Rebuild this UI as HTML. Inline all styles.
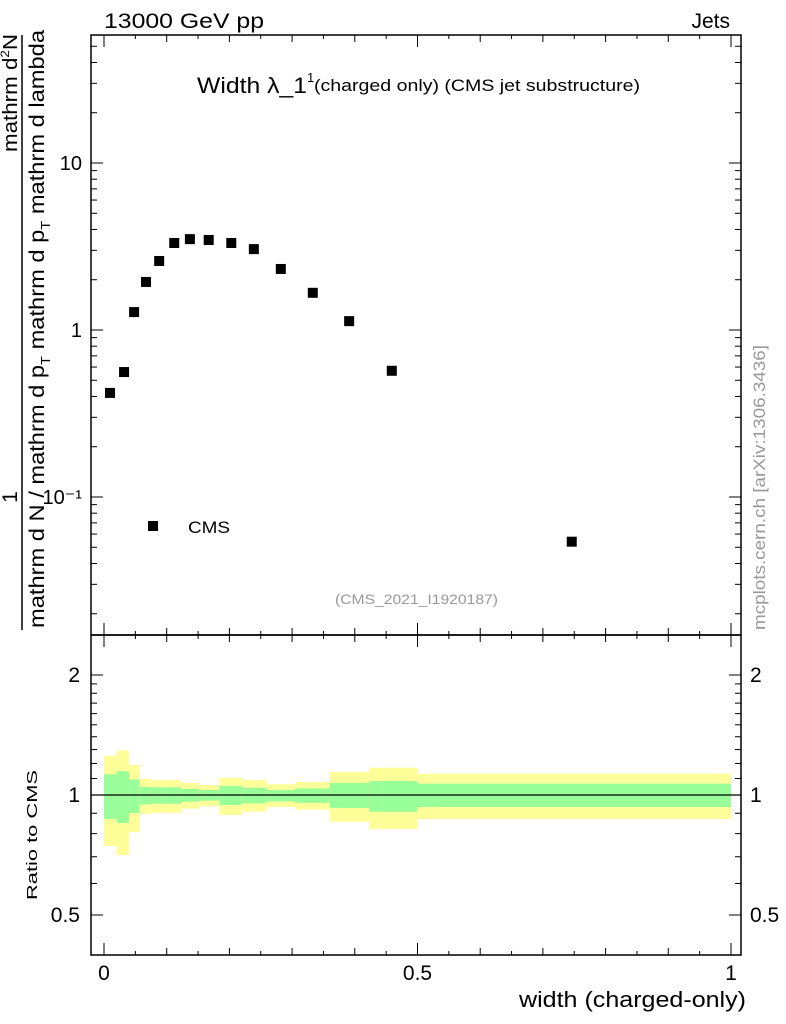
<!DOCTYPE html>
<html><head><meta charset="utf-8"><style>
body{margin:0;background:#fff;}
svg{display:block;font-family:"Liberation Sans",Arial,sans-serif;}
</style></head><body>
<svg id="c" width="786" height="1024" viewBox="0 0 786 1024"></svg>
<script>
const xVals=[0.0096,0.032,0.048,0.067,0.088,0.112,0.137,0.167,0.203,0.239,0.282,0.333,0.391,0.459,0.746];
const yVals=[0.42,0.56,1.28,1.94,2.59,3.32,3.5,3.46,3.32,3.05,2.32,1.67,1.13,0.57,0.054];
const binEdges=[0,0.0203,0.04,0.057,0.0755,0.0985,0.124,0.152,0.184,0.2196,0.2595,0.3046,0.36,0.423,0.5,1.0];
const yellowHi=[1.255,1.294,1.189,1.097,1.090,1.090,1.072,1.059,1.105,1.090,1.064,1.078,1.142,1.171,1.131];
const greenHi=[1.127,1.147,1.094,1.047,1.045,1.045,1.035,1.029,1.053,1.043,1.029,1.039,1.072,1.084,1.068];
const greenLo=[0.871,0.851,0.901,0.946,0.951,0.951,0.962,0.968,0.944,0.953,0.964,0.956,0.928,0.908,0.933];
const yellowLo=[0.745,0.707,0.807,0.898,0.902,0.902,0.924,0.937,0.891,0.908,0.933,0.919,0.857,0.822,0.871];
const mainTicks=[0.1,1,10];
const mainTickLabels=["10\u207B\u00B9","1","10"];
const ratioTicks=[0.5,1,2];
const ratioTickLabels=["0.5","1","2"];
const xTicks=[0,0.5,1];
const xTickLabels=["0","0.5","1"];

const NS="http://www.w3.org/2000/svg";
const svg=document.getElementById('c');
function mk(t,a,p){const e=document.createElementNS(NS,t);for(const k in a)e.setAttribute(k,a[k]);(p||svg).appendChild(e);return e;}
const L=91,R=741,T=35,M=635,B=955;
const X=v=>104+v*627;
const Y=v=>330-Math.log10(v)*167;
const YR=v=>795-Math.log10(v)*120/0.30103;

const bands=mk('g',{});


for(let i=0;i<binEdges.length-1;i++){
  const x0=X(binEdges[i]),x1=X(binEdges[i+1]);
  const y1=mk('rect',{x:x0,y:YR(yellowHi[i]),width:x1-x0,height:YR(yellowLo[i])-YR(yellowHi[i]),fill:'#ffff99'},bands);
  
  
  const g1=mk('rect',{x:x0,y:YR(greenHi[i]),width:x1-x0,height:YR(greenLo[i])-YR(greenHi[i]),fill:'#99ff99'},bands);
  
  
}
const one=mk('line',{x1:L,x2:R,y1:YR(1),y2:YR(1),stroke:'#000','stroke-width':1.3});



const f1=mk('rect',{x:L,y:T,width:R-L,height:M-T,fill:'none',stroke:'#000','stroke-width':1.5});


const f2=mk('rect',{x:L,y:M,width:R-L,height:B-M,fill:'none',stroke:'#000','stroke-width':1.5});



function tick(x1,y1,x2,y2){mk('line',{x1,y1,x2,y2,stroke:'#000','stroke-width':1});}
for(let k=0;k<=20;k++){
  const v=k*0.05,x=X(v);
  const len=(k%10==0)?12:(k%2==0?7:4);
  tick(x,B,x,B-len);tick(x,M,x,M+len);tick(x,M,x,M-len);tick(x,T,x,T+len);
}
xTicks.forEach((v,i)=>{const t=mk('text',{x:X(v),y:980,'font-size':21,'text-anchor':'middle'});t.textContent=xTickLabels[i];

});
for(let d=-2;d<=1;d++){for(let m=1;m<=9;m++){const v=m*Math.pow(10,d);const y=Y(v);if(y<T||y>M)continue;
 const len=m==1?12:6;tick(L,y,L+len,y);tick(R,y,R-len,y);}}
mainTicks.forEach((v,i)=>{const t=mk('text',{x:82,y:Y(v)+7,'font-size':20,'text-anchor':'end'});t.textContent=mainTickLabels[i];

});
for(let k=5;k<=20;k++){const v=k/10;const y=YR(v);const len=(v==0.5||v==1||v==2)?12:6;tick(L,y,L+len,y);tick(R,y,R-len,y);}
ratioTicks.forEach((v,i)=>{
 const t=mk('text',{x:80,y:YR(v)+7,'font-size':21,'text-anchor':'end'});t.textContent=ratioTickLabels[i];
 
 
 const t2=mk('text',{x:750,y:YR(v)+7,'font-size':21});t2.textContent=ratioTickLabels[i];
 
 
});
xVals.forEach((v,i)=>{const r=mk('rect',{x:X(v)-5,y:Y(yVals[i])-5,width:10,height:10,fill:'#000'});

});
</script>
<div style="position:absolute;left:0;top:0;width:786px;height:1024px;pointer-events:none">
<svg width="786" height="1024" style="font-family:'Liberation Sans',Arial,sans-serif">
<text x="104" y="28" font-size="21" textLength="160" lengthAdjust="spacingAndGlyphs">13000 GeV pp</text>
<text x="730" y="28" font-size="21" text-anchor="end">Jets</text>
<text x="197" y="93" font-size="22" textLength="110" lengthAdjust="spacingAndGlyphs">Width λ_1</text>
<text x="307" y="82" font-size="13">1</text>
<text x="314" y="91" font-size="17" textLength="326" lengthAdjust="spacingAndGlyphs">(charged only) (CMS jet substructure)</text>
<rect x="148" y="521" width="10" height="10" fill="#000"/>
<text x="188" y="533" font-size="17" textLength="42" lengthAdjust="spacingAndGlyphs">CMS</text>
<text x="335" y="604" font-size="14" fill="#999" textLength="163" lengthAdjust="spacingAndGlyphs">(CMS_2021_I1920187)</text>
<text transform="translate(765,630) rotate(-90)" font-size="17" fill="#999" textLength="285" lengthAdjust="spacingAndGlyphs">mcplots.cern.ch [arXiv:1306.3436]</text>
<text x="519" y="1007" font-size="22" textLength="227" lengthAdjust="spacingAndGlyphs">width (charged-only)</text>
<text transform="translate(37,900) rotate(-90)" font-size="15" textLength="130" lengthAdjust="spacingAndGlyphs">Ratio to CMS</text>
<g>
<line x1="22" y1="35" x2="22" y2="630" stroke="#000" stroke-width="1.5"/>
<text transform="translate(17,497) rotate(-90)" font-size="21" text-anchor="middle">1</text>
<text transform="translate(17,152) rotate(-90)" font-size="20" textLength="118" lengthAdjust="spacingAndGlyphs">mathrm d<tspan font-size="12" dy="-8">2</tspan><tspan dy="8">N</tspan></text>
<text transform="translate(44,628) rotate(-90)" font-size="21" textLength="598" lengthAdjust="spacingAndGlyphs">mathrm d N / mathrm d p<tspan font-size="13" dy="6">T</tspan><tspan dy="-6"> mathrm d p</tspan><tspan font-size="13" dy="6">T</tspan><tspan dy="-6"> mathrm d lambda</tspan></text>
</g>
</svg></div>
</body></html>
